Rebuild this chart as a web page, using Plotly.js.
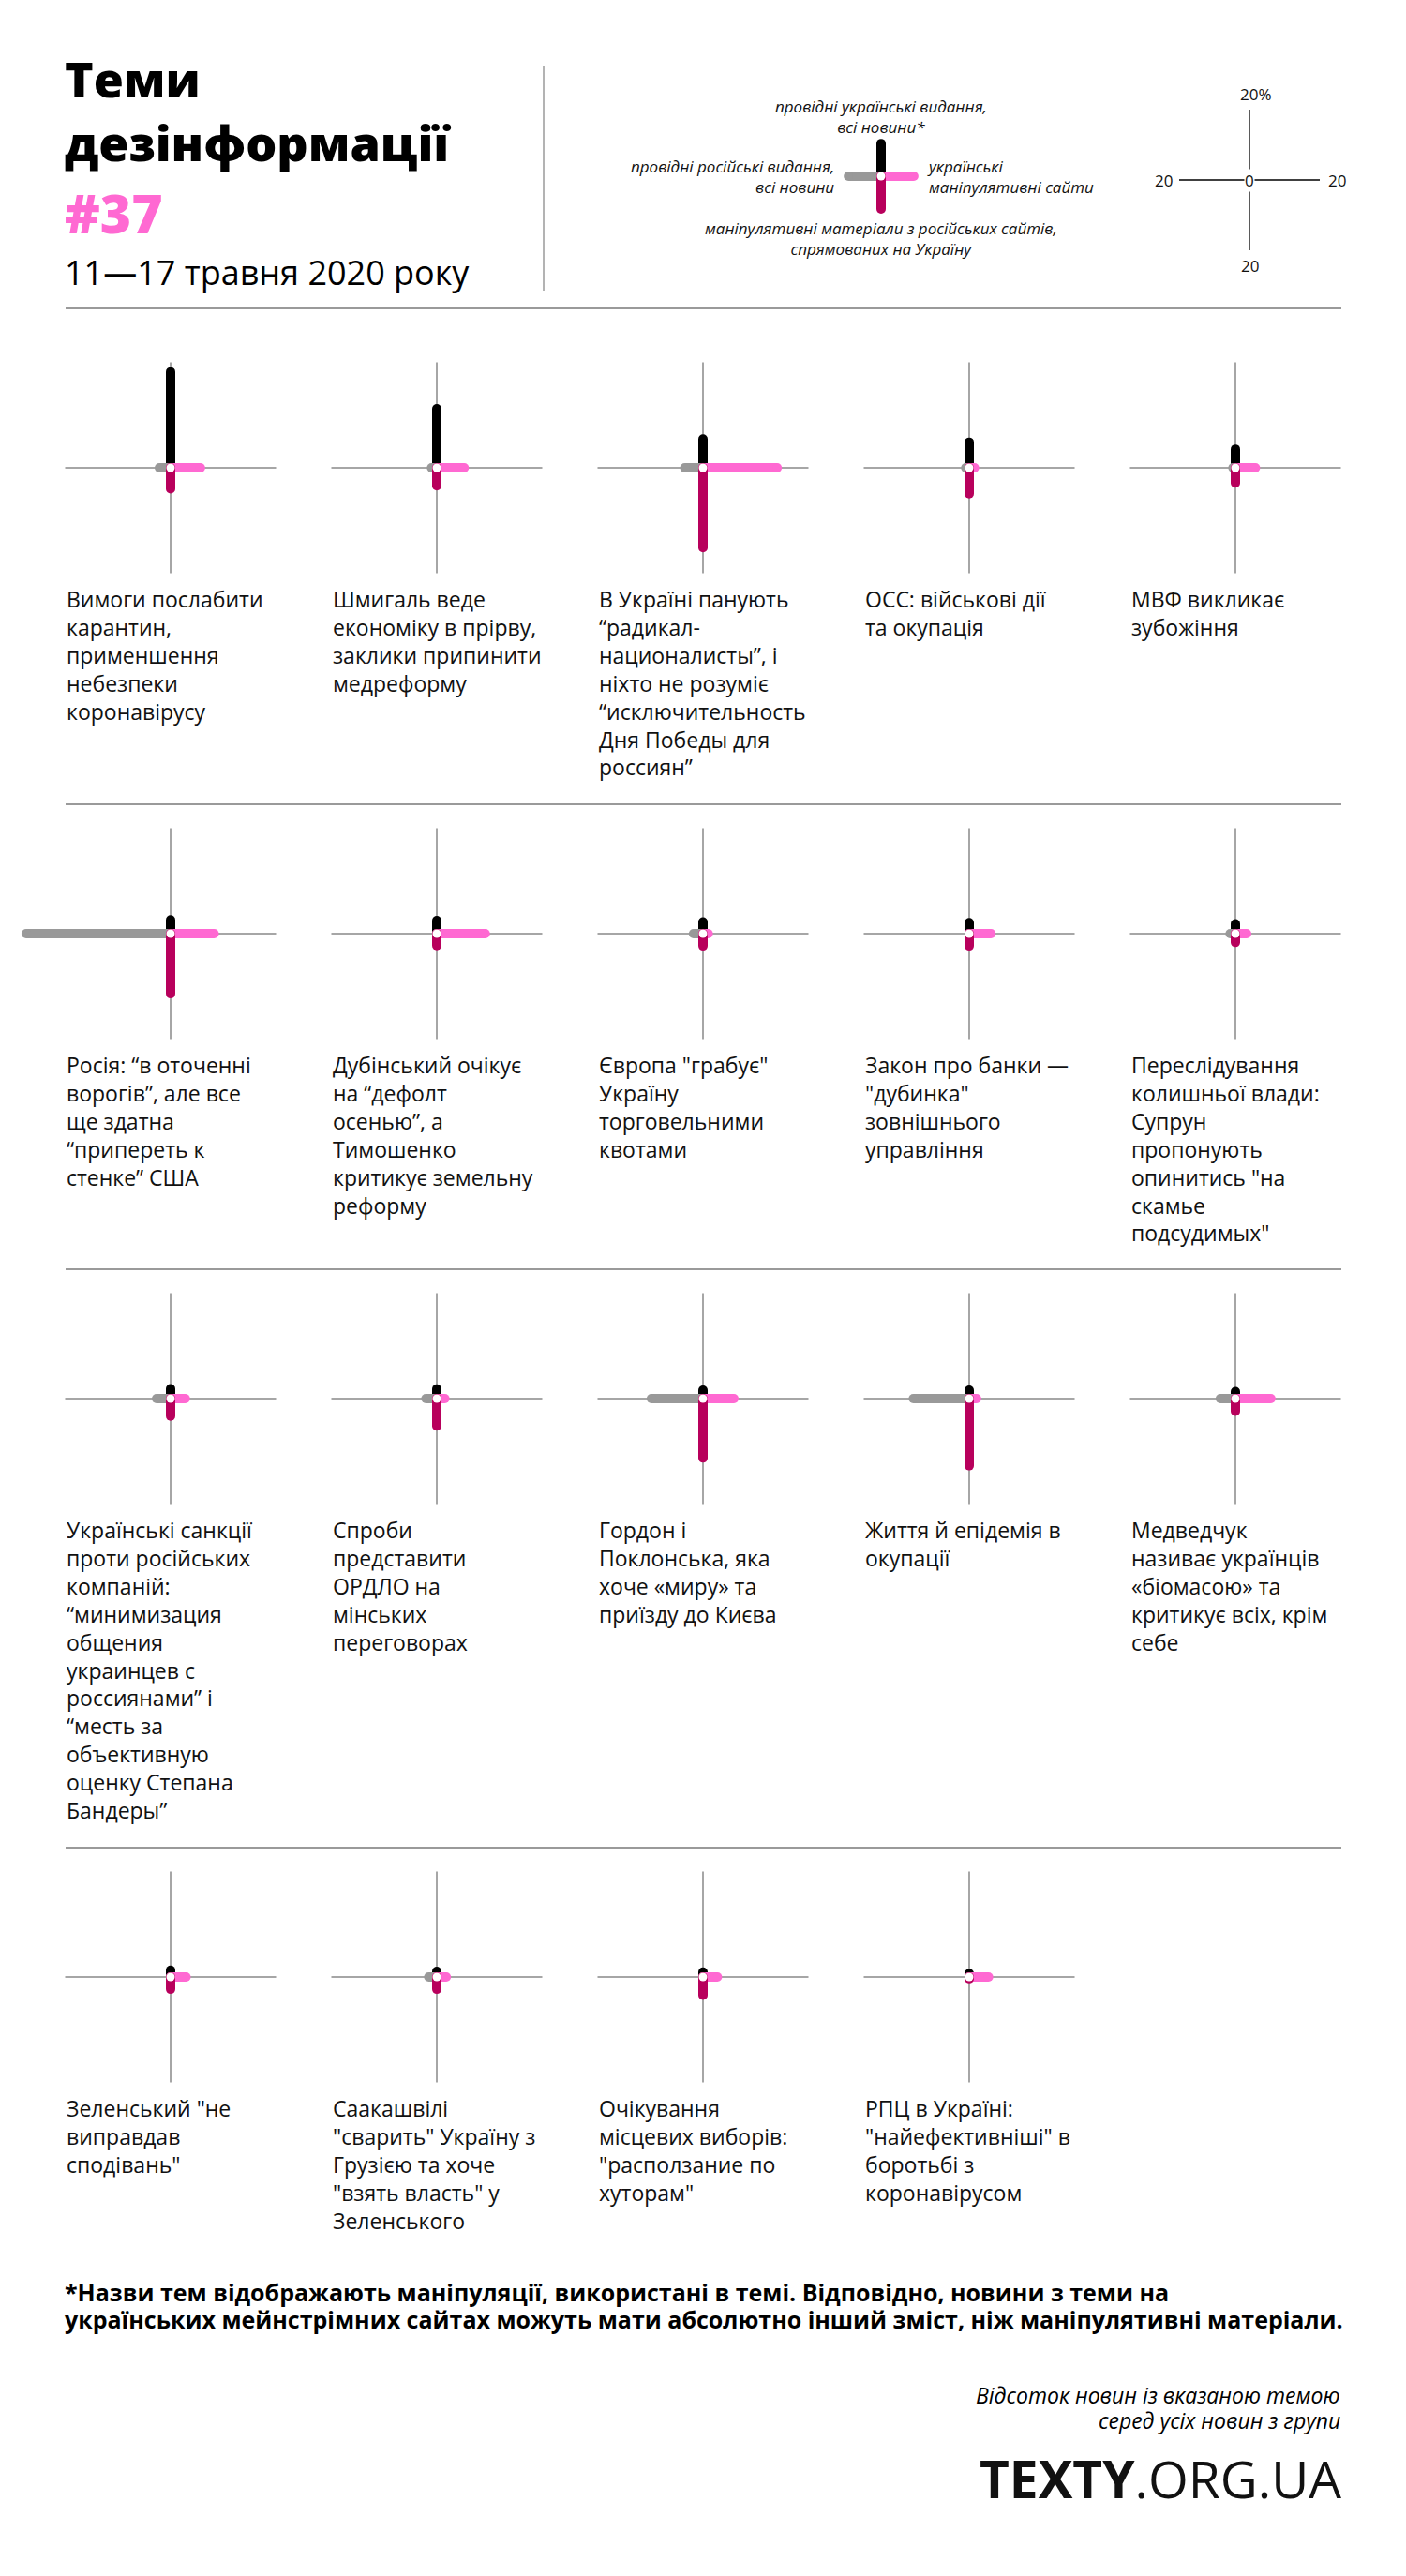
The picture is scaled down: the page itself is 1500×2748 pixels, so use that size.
<!DOCTYPE html>
<html><head><meta charset="utf-8">
<script src="https://cdn.plot.ly/plotly-3.0.1.min.js"></script>
<style>html,body{margin:0;padding:0;background:#fff}</style>
</head><body><div id="chart" style="width:1500px;height:2748px"></div>
<script>
// ---------- DATA (percent of news in each group) ----------
const topics = [
  "Вимоги послабити<br>карантин,<br>применшення<br>небезпеки<br>коронавірусу",
  "Шмигаль веде<br>економіку в прірву,<br>заклики припинити<br>медреформу",
  "В Україні панують<br>“радикал-<br>националисты”, і<br>ніхто не розуміє<br>“исключительность<br>Дня Победы для<br>россиян”",
  "ОСС: військові дії<br>та окупація",
  "МВФ викликає<br>зубожіння",
  "Росія: “в оточенні<br>ворогів”, але все<br>ще здатна<br>“припереть к<br>стенке” США",
  "Дубінський очікує<br>на “дефолт<br>осенью”, а<br>Тимошенко<br>критикує земельну<br>реформу",
  "Європа \"грабує\"<br>Україну<br>торговельними<br>квотами",
  "Закон про банки —<br>\"дубинка\"<br>зовнішнього<br>управління",
  "Переслідування<br>колишньої влади:<br>Супрун<br>пропонують<br>опинитись \"на<br>скамье<br>подсудимых\"",
  "Українські санкції<br>проти російських<br>компаній:<br>“минимизация<br>общения<br>украинцев с<br>россиянами” і<br>“месть за<br>объективную<br>оценку Степана<br>Бандеры”",
  "Спроби<br>представити<br>ОРДЛО на<br>мінських<br>переговорах",
  "Гордон і<br>Поклонська, яка<br>хоче «миру» та<br>приїзду до Києва",
  "Життя й епідемія в<br>окупації",
  "Медведчук<br>називає українців<br>«біомасою» та<br>критикує всіх, крім<br>себе",
  "Зеленський \"не<br>виправдав<br>сподівань\"",
  "Саакашвілі<br>\"сварить\" Україну з<br>Грузією та хоче<br>\"взять власть\" у<br>Зеленського",
  "Очікування<br>місцевих виборів:<br>\"расползание по<br>хуторам\"",
  "РПЦ в Україні:<br>\"найефективніші\" в<br>боротьбі з<br>коронавірусом"
];
// black, up: leading Ukrainian media, all news
const ukrMedia   = [27.3,16.8,8.2,7.3,5.3, 3.9,3.7,3.3,3.1,2.8, 2.8,2.7,2.4,2.4,2.0, 1.9,1.6,1.4,1.0];
// grey, left: leading Russian media, all news
const rusMedia   = [3.2,1.5,5.2,1.0,0.7, 41.1,0,2.7,0,1.5, 4.0,3.1,14.7,15.9,4.3, 0,2.3,0,0];
// pink, right: Ukrainian manipulative sites
const ukrManip   = [8.5,7.8,21.1,1.5,5.7, 12.4,13.8,1.5,6.2,3.2, 4.2,2.3,8.8,2.1,10.1, 4.4,2.7,4.1,5.5];
// magenta, down: manipulative materials from Russian sites aimed at Ukraine
const rusManip   = [6.0,5.1,22.7,7.4,4.3, 17.1,3.4,3.5,3.5,2.5, 5.0,7.8,16.9,19.1,3.6, 3.5,3.5,5.2,0.5];
// legend sample and scale
const legendSample = [9.3, 9.3, 9.3, 9.3];
const scaleValue = 20;
const crossExtent = 30;

// ---------- LAYOUT CONSTANTS ----------
const W=1500, H=2748, PX=3.75;
const COLS=[182,466,750,1034,1318];
const ROWS=[499,996,1492,2109];
const C_BLACK='#000000', C_GREY='#999999', C_PINK='#ff69d2', C_MAG='#b8005c', C_AXIS='#a6a6a6';
const FONT="'Open Sans', sans-serif";
const fx=p=>p/W, fy=p=>1-p/H;

const data=[], annotations=[], shapes=[];
const layout={width:W,height:H,margin:{l:0,r:0,t:0,b:0},paper_bgcolor:'#fff',plot_bgcolor:'rgba(0,0,0,0)',showlegend:false};

function addAxes(k,cx,cy,R){
  const sx=k===1?'':k, r=R/PX;
  layout['xaxis'+sx]={domain:[fx(cx-R),fx(cx+R)],range:[-r,r],visible:false,fixedrange:true,anchor:'y'+sx};
  layout['yaxis'+sx]={domain:[fy(cy+R),fy(cy-R)],range:[-r,r],visible:false,fixedrange:true,anchor:'x'+sx};
  return {xaxis:'x'+sx,yaxis:'y'+sx};
}
function bar(ax,xs,ys,color){
  data.push(Object.assign({type:'scatter',mode:'lines+markers',x:xs,y:ys,hoverinfo:'skip',
    line:{color:color,width:10},marker:{color:color,size:10}},ax));
}
function crossBars(ax,u,g,p,m){
  bar(ax,[0,0],[0,u],C_BLACK);
  bar(ax,[0,-g],[0,0],C_GREY);
  bar(ax,[0,p],[0,0],C_PINK);
  bar(ax,[0,0],[0,-m],C_MAG);
  data.push(Object.assign({type:'scatter',mode:'markers',x:[0],y:[0],hoverinfo:'skip',
    marker:{color:'#ffffff',size:9}},ax));
}

let k=1;
topics.forEach((t,i)=>{
  const cx=COLS[i%5], cy=ROWS[Math.floor(i/5)];
  const ax=addAxes(k,cx,cy,175); k++;
  data.push(Object.assign({type:'scatter',mode:'lines',x:[-crossExtent,crossExtent,null,0,0],y:[0,0,null,-crossExtent,crossExtent],
    hoverinfo:'skip',line:{color:C_AXIS,width:2}},ax));
  crossBars(ax,ukrMedia[i],rusMedia[i],ukrManip[i],rusManip[i]);
  annotations.push({text:t,xref:'paper',yref:'paper',x:fx(cx-113),y:fy(cy+122),xanchor:'left',yanchor:'top',align:'left',
    showarrow:false,font:{family:FONT,size:23,color:'#111'}});
});

// legend cross
const lax=addAxes(k,940,188,60); k++;
crossBars(lax,legendSample[0],legendSample[1],legendSample[2],legendSample[3]);
// scale cross
const sax=addAxes(k,1333,192,110); k++;
data.push(Object.assign({type:'scatter',mode:'lines',x:[-scaleValue,scaleValue,null,0,0],y:[0,0,null,-scaleValue,scaleValue],
  hoverinfo:'skip',line:{color:'#000',width:1.3}},sax));
const sfont={family:FONT,size:17,color:'#111'};
annotations.push({text:'0',xref:sax.xaxis,yref:sax.yaxis,x:0,y:0,showarrow:false,bgcolor:'#fff',font:sfont,borderpad:0});
annotations.push({text:scaleValue+'%',xref:sax.xaxis,yref:sax.yaxis,x:0,y:scaleValue,yanchor:'bottom',yshift:3,xshift:7,showarrow:false,font:sfont});
annotations.push({text:String(scaleValue),xref:sax.xaxis,yref:sax.yaxis,x:0,y:-scaleValue,yanchor:'top',yshift:-3,showarrow:false,font:sfont});
annotations.push({text:String(scaleValue),xref:sax.xaxis,yref:sax.yaxis,x:-scaleValue,y:0,xanchor:'right',xshift:-5,showarrow:false,font:sfont});
annotations.push({text:String(scaleValue),xref:sax.xaxis,yref:sax.yaxis,x:scaleValue,y:0,xanchor:'left',xshift:7,showarrow:false,font:sfont});

// legend labels (two-line blocks)
const lf={family:FONT,size:17,color:'#111',style:'italic'};
function lab(text,x,y,xa){annotations.push({text,xref:'paper',yref:'paper',x:fx(x),y:fy(y),xanchor:xa,yanchor:'middle',
  align:xa==='center'?'center':xa,showarrow:false,font:lf,borderpad:0});}
lab('провідні українські видання,<br>всі новини*',940,124,'center');
lab('провідні російські видання,<br>всі новини',891,189,'right');
lab('українські<br>маніпулятивні сайти',988,188,'left');
lab('маніпулятивні матеріали з російських сайтів,<br>спрямованих на Україну',940,255,'center');

// header
function txt(text,x,y,font,opts){annotations.push(Object.assign({text,xref:'paper',yref:'paper',x:fx(x),y:fy(y),xanchor:'left',yanchor:'middle',align:'left',showarrow:false,
  font:Object.assign({family:FONT,color:'#000'},font)},opts||{}));}
txt('Теми<br>дезінформації',67,117,{size:52,weight:800});
txt('#37',67,227,{size:57,weight:800,color:C_PINK});
txt('11—17 травня 2020 року',67,290,{size:36});

// footer
txt('*Назви тем відображають маніпуляції, використані в темі. Відповідно, новини з теми на',67,2445,{size:25,weight:700});
txt('українських мейнстрімних сайтах можуть мати абсолютно інший зміст, ніж маніпулятивні матеріали.',67,2474,{size:25,weight:700});
txt('Відсоток новин із вказаною темою',1432,2555,{size:23,style:'italic'},{xanchor:'right'});
txt('серед усіх новин з групи',1432,2582,{size:23,style:'italic'},{xanchor:'right'});
txt('<b>TEXTY</b>.ORG.UA',1433,2643,{size:55,color:'#111'},{xanchor:'right'});

// separators
[329,858,1354,1971].forEach(y=>shapes.push({type:'line',xref:'paper',yref:'paper',x0:fx(70),x1:fx(1431),y0:fy(y),y1:fy(y),line:{color:'#9a9a9a',width:2}}));
shapes.push({type:'line',xref:'paper',yref:'paper',x0:fx(580),x1:fx(580),y0:fy(70),y1:fy(310),line:{color:'#9a9a9a',width:1.5}});

layout.annotations=annotations; layout.shapes=shapes;
Plotly.newPlot('chart',data,layout,{staticPlot:true,displayModeBar:false});
</script></body></html>
